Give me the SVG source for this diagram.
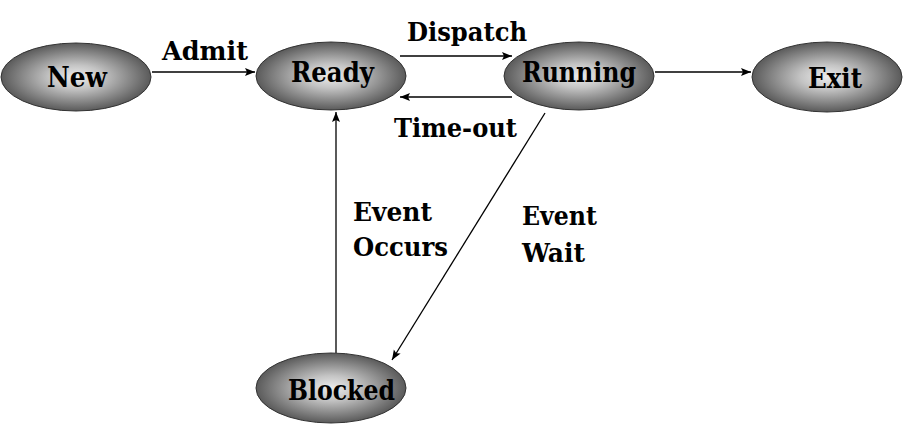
<svg xmlns="http://www.w3.org/2000/svg" width="903" height="428" viewBox="0 0 903 428">
<defs>
<radialGradient id="g" cx="50%" cy="50%" r="50%">
<stop offset="0" stop-color="#ececec"/>
<stop offset="0.35" stop-color="#c4c4c4"/>
<stop offset="1" stop-color="#5a5a5a"/>
</radialGradient>
<marker id="ah" viewBox="0 0 10 10" refX="10" refY="5" markerWidth="10" markerHeight="10" markerUnits="userSpaceOnUse" orient="auto">
<path d="M0,1 L10,5 L0,9 L2,5 Z" fill="#000"/>
</marker>
</defs>
<style>
.node ellipse{fill:url(#g);stroke:#333;stroke-width:1}
text{font-family:'DejaVu Serif','Liberation Serif',serif;font-weight:bold;fill:#000}
.nt{font-size:28px}
.lt{font-size:26px}
.edges line{stroke:#000;stroke-width:1.3;marker-end:url(#ah)}
</style>
<rect width="903" height="428" fill="#fff"/>
<g class="edges">
<line x1="152" y1="72" x2="255" y2="72"/>
<line x1="400" y1="56" x2="512" y2="56"/>
<line x1="512" y1="97" x2="400" y2="97"/>
<line x1="655" y1="72" x2="751" y2="72"/>
<line x1="336" y1="353" x2="336" y2="112"/>
<line x1="545" y1="113" x2="392" y2="360"/>
</g>
<g id="new" class="node"><ellipse cx="76" cy="77" rx="75" ry="34"/><text class="nt" x="47" y="87" textLength="60" lengthAdjust="spacingAndGlyphs">New</text></g>
<g id="ready" class="node"><ellipse cx="331" cy="76" rx="75" ry="34"/><text class="nt" x="291" y="82" textLength="83" lengthAdjust="spacingAndGlyphs">Ready</text></g>
<g id="running" class="node"><ellipse cx="579" cy="76" rx="75" ry="34"/><text class="nt" x="522" y="82" textLength="114" lengthAdjust="spacingAndGlyphs">Running</text></g>
<g id="exit" class="node"><ellipse cx="827" cy="77" rx="75" ry="35"/><text class="nt" x="808" y="88" textLength="54" lengthAdjust="spacingAndGlyphs">Exit</text></g>
<g id="blocked" class="node"><ellipse cx="331" cy="388" rx="75" ry="35"/><text class="nt" x="288" y="400" textLength="107" lengthAdjust="spacingAndGlyphs">Blocked</text></g>
<g id="labels">
<text class="lt" x="162" y="60" textLength="86" lengthAdjust="spacingAndGlyphs">Admit</text>
<text class="lt" x="407" y="41" textLength="120" lengthAdjust="spacingAndGlyphs">Dispatch</text>
<text class="lt" x="394" y="137" textLength="123" lengthAdjust="spacingAndGlyphs">Time-out</text>
<text class="lt" x="353" y="221" textLength="79" lengthAdjust="spacingAndGlyphs">Event</text>
<text class="lt" x="353" y="256" textLength="95" lengthAdjust="spacingAndGlyphs">Occurs</text>
<text class="lt" x="522" y="225" textLength="75" lengthAdjust="spacingAndGlyphs">Event</text>
<text class="lt" x="522" y="262" textLength="63" lengthAdjust="spacingAndGlyphs">Wait</text>
</g>
</svg>
